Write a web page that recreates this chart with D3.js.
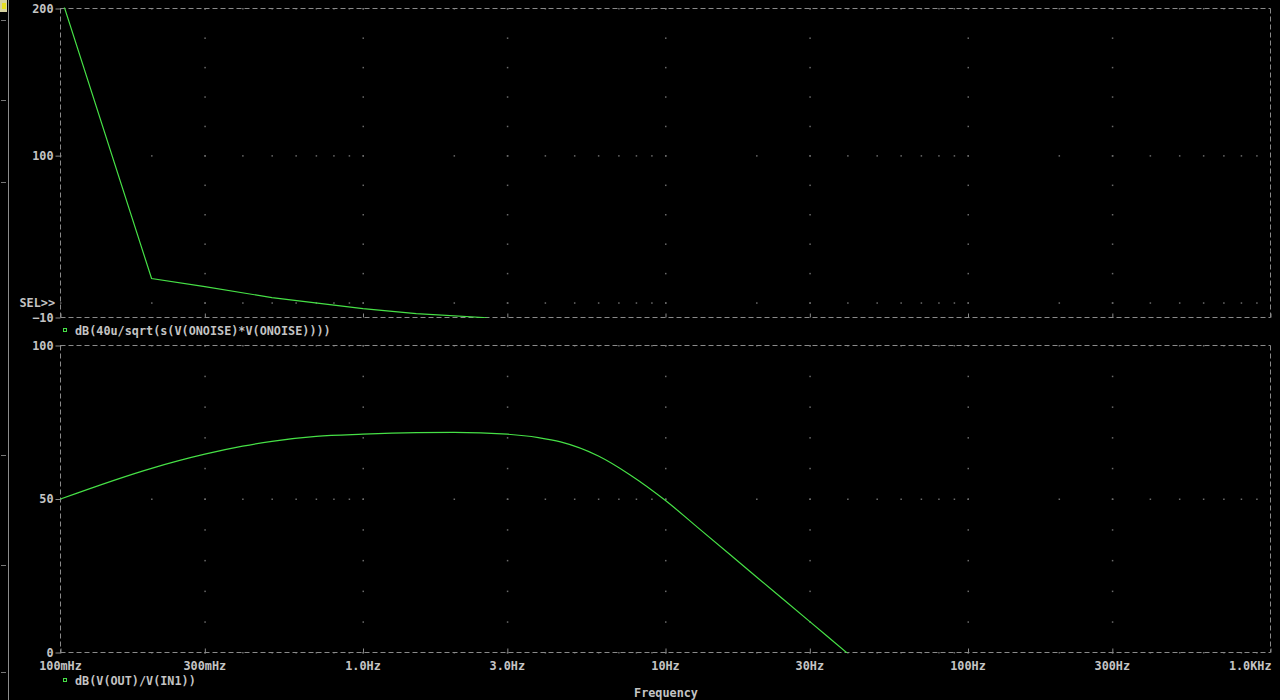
<!DOCTYPE html>
<html><head><meta charset="utf-8">
<script src="https://cdn.jsdelivr.net/npm/d3@7"></script>
<style>
html,body{margin:0;padding:0;background:#000;}
svg{display:block;}
text{font-family:"DejaVu Sans Mono",monospace;font-weight:bold;font-size:11.8px;fill:#c4c4c4;}
</style></head>
<body>
<svg id="c" width="1280" height="700"></svg>
<script>
// ---- data ----
const xTickValues = [0.1, 0.3, 1, 3, 10, 30, 100, 300, 1000];
const xTickLabels = ["100mHz","300mHz","1.0Hz","3.0Hz","10Hz","30Hz","100Hz","300Hz","1.0KHz"];
const topYTicks = [200, 100, -10];
const botYTicks = [100, 50, 0];
const topFreq = [0.1, 0.2, 0.3, 0.5, 1.0, 1.5, 2.5, 3.5];
const topDb   = [209, 16.5, 11, 3.5, -4, -7.3, -10, -16];
const botFreq = [0.1, 0.2, 0.3, 0.4, 0.5, 0.7, 1.0, 1.5, 2.0, 3.0, 3.8, 4.5, 6.0, 7.6, 10, 13, 20, 30, 40, 50];
const botDb   = [50, 60, 64.6, 67.2, 68.8, 70.4, 71.1, 71.6, 71.7, 71.1, 70.0, 68.6, 64, 58, 49.5, 40.1, 24.6, 10.05, -0.3, -8.3];
const topLegend = "dB(40u/sqrt(s(V(ONOISE)*V(ONOISE))))";
const botLegend = "dB(V(OUT)/V(IN1))";

const svg = d3.select("#c");
const green = "#46e046", grid = "#8a8a8a", dotc = "#6a6a6a";

const x = d3.scaleLog().domain([0.1, 1000]).range([60.5, 1270.5]);
const yTop = d3.scaleLinear().domain([-10, 200]).range([317.5, 8.5]);
const yBot = d3.scaleLinear().domain([0, 100]).range([652.5, 345.5]);

// window chrome on left
svg.append("line").attr("x1",8.5).attr("x2",8.5).attr("y1",0).attr("y2",700).attr("stroke","#8c8c8c");
svg.append("rect").attr("x",0).attr("y",0).attr("width",7).attr("height",12).attr("fill","#d8d4a0");
svg.append("rect").attr("x",2).attr("y",3).attr("width",4).attr("height",6).attr("fill","#e8e020");
[20,100,182,455,565,672].forEach(v=>svg.append("line").attr("x1",1).attr("x2",6).attr("y1",v+0.5).attr("y2",v+0.5).attr("stroke","#777"));

// minor x positions
const minorX = [];
for (let d = 0.1; d < 1000; d *= 10) for (let k = 1; k <= 9; k++) minorX.push(d * k);
const majorXInner = xTickValues.slice(1, -1);

function panel(y, ticks, majorRows, minorStep, clipId) {
  const [y0, y1] = y.domain();
  const g = svg.append("g");
  majorRows.forEach(r => {
    minorX.forEach(f => {
      g.append("rect").attr("x", x(f) - 0.5).attr("y", y(r) - 0.5).attr("width", 1.5).attr("height", 1.5).attr("fill", dotc);
    });
  });
  majorXInner.forEach(f => {
    for (let v = Math.ceil(y0 / minorStep) * minorStep; v <= y1; v += minorStep) {
      g.append("rect").attr("x", x(f) - 0.5).attr("y", y(v) - 0.5).attr("width", 1.5).attr("height", 1.5).attr("fill", dotc);
    }
  });
  const r = [y.range()[1], y.range()[0]];
  const fr = svg.append("g").attr("stroke", grid).attr("stroke-dasharray", "5,3").attr("fill", "none");
  fr.append("line").attr("x1", 60.5).attr("x2", 1270.5).attr("y1", r[0]).attr("y2", r[0]);
  fr.append("line").attr("x1", 60.5).attr("x2", 1270.5).attr("y1", r[1]).attr("y2", r[1]);
  fr.append("line").attr("x1", 60.5).attr("x2", 60.5).attr("y1", r[0]).attr("y2", r[1]);
  fr.append("line").attr("x1", 1270.5).attr("x2", 1270.5).attr("y1", r[0]).attr("y2", r[1]);
  const ax = svg.append("g").attr("transform", "translate(60.5,0)")
    .call(d3.axisLeft(y).tickValues(ticks).tickSize(5).tickPadding(2).tickFormat(d3.format("d")));
  ax.select(".domain").remove();
  ax.selectAll("line").attr("stroke", grid);
  ax.selectAll("text").attr("fill", "#c4c4c4").style("font-size", "11.8px").style("font-family", '"DejaVu Sans Mono",monospace').style("font-weight", "bold");
  svg.append("clipPath").attr("id", clipId).append("rect")
    .attr("x", 60).attr("y", r[0] - 1).attr("width", 1211).attr("height", r[1] - r[0] + 1.5);
}

panel(yTop, topYTicks, [200, 100, 0], 20, "clipTop");
panel(yBot, botYTicks, [100, 50, 0], 10, "clipBot");

// x axis (bottom)
const xa = svg.append("g").attr("transform", "translate(0,652.5)")
  .call(d3.axisTop(x).tickValues(xTickValues).tickSize(4).tickFormat(() => ""));
xa.select(".domain").remove();
xa.selectAll("line").attr("stroke", grid);
svg.append("g").selectAll("text").data(xTickValues).join("text")
  .attr("x", (d, i) => i === xTickValues.length - 1 ? x(d) + 1 : x(d))
  .attr("y", 670)
  .attr("text-anchor", (d, i) => i === xTickValues.length - 1 ? "end" : "middle")
  .text((d, i) => xTickLabels[i]);
svg.append("g").attr("transform", "translate(0,317.5)")
  .call(d3.axisTop(x).tickValues(xTickValues).tickSize(4).tickFormat(() => ""))
  .call(g => { g.select(".domain").remove(); g.selectAll("line").attr("stroke", grid); });

// lines
const lineTop = d3.line().x((d, i) => x(topFreq[i])).y(d => yTop(d));
svg.append("path").datum(topDb).attr("d", lineTop).attr("fill", "none")
  .attr("stroke", green).attr("stroke-width", 1.2).attr("clip-path", "url(#clipTop)");
const lineBot = d3.line().curve(d3.curveMonotoneX).x((d, i) => x(botFreq[i])).y(d => yBot(d));
svg.append("path").datum(botDb).attr("d", lineBot).attr("fill", "none")
  .attr("stroke", green).attr("stroke-width", 1.2).attr("clip-path", "url(#clipBot)");

// labels
svg.append("text").attr("x", 55).attr("y", 307).attr("text-anchor", "end").text("SEL>>");
svg.append("rect").attr("x", 63.5).attr("y", 328.5).attr("width", 3).attr("height", 3).attr("fill", "none").attr("stroke", green);
svg.append("text").attr("x", 75).attr("y", 335).text(topLegend);
svg.append("rect").attr("x", 63.5).attr("y", 678.5).attr("width", 3).attr("height", 3).attr("fill", "none").attr("stroke", green);
svg.append("text").attr("x", 75).attr("y", 685).text(botLegend);
svg.append("text").attr("x", 666).attr("y", 697).attr("text-anchor", "middle").text("Frequency");
</script>
</body></html>
